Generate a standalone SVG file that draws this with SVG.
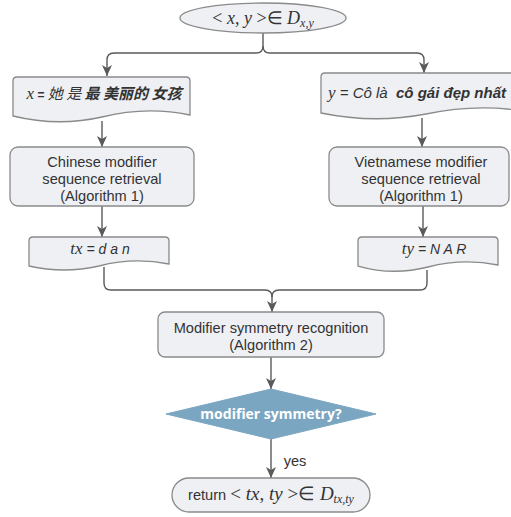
<svg xmlns="http://www.w3.org/2000/svg" width="511" height="517" viewBox="0 0 511 517">
<style>
.shape{fill:#eef0f4;stroke:#8a8a8a;stroke-width:1.3}
.conn{fill:none;stroke:#5a5a5a;stroke-width:1.4}
.t{font-family:"Liberation Sans",Arial,sans-serif;font-size:14.6px;fill:#333;text-anchor:middle}
.m{font-family:"Liberation Serif","Times New Roman",serif;font-style:italic}
.mr{font-family:"Liberation Serif","Times New Roman",serif}
.cjk{font-family:"Noto Sans CJK SC",sans-serif;font-style:italic}
</style>
<defs>
<marker id="arr" markerUnits="userSpaceOnUse" markerWidth="12" markerHeight="12" viewBox="0 0 12 12" refX="11" refY="6" orient="auto">
<path d="M0,1 L11,6 L0,11 L3,6 z" fill="#5a5a5a"/>
</marker>
</defs>
<rect width="511" height="517" fill="#ffffff"/>
<g id="connectors">
<path class="conn" d="M263,33 L263,46 Q263,53 256,53 L114,53 Q107,53 107,60 L107,76" marker-end="url(#arr)"/>
<path class="conn" d="M263,46 Q263,53 270,53 L417,53 Q424,53 424,60 L424,73" marker-end="url(#arr)"/>
<path class="conn" d="M102,121 L102,147" marker-end="url(#arr)"/>
<path class="conn" d="M422,118 L422,147" marker-end="url(#arr)"/>
<path class="conn" d="M102,206 L102,237" marker-end="url(#arr)"/>
<path class="conn" d="M423,206 L423,237" marker-end="url(#arr)"/>
<path class="conn" d="M104,267 L104,283 Q104,290 111,290 L265,290 Q272,290 272,297 L272,312" marker-end="url(#arr)"/>
<path class="conn" d="M427,270 L427,283 Q427,290 420,290 L279,290 Q272,290 272,297"/>
<path class="conn" d="M271,357 L271,389" marker-end="url(#arr)"/>
<path class="conn" d="M271,439 L271,478" marker-end="url(#arr)"/>
<text class="t" x="295" y="466">yes</text>
</g>
<g id="start">
<ellipse class="shape" cx="263" cy="18" rx="83" ry="15"/>
<text x="263" y="24" font-size="18" fill="#333" text-anchor="middle" class="mr" xml:space="preserve">&lt; <tspan class="m">x</tspan>, <tspan class="m">y</tspan> &gt;∈ <tspan class="m">D</tspan><tspan class="m" font-size="12" dy="3">x,y</tspan></text>
</g>
<g id="docX">
<path class="shape" d="M13,81 Q13,77 17,77 L186,77 Q190,77 190,81 L190,115 Q146,106 102,117 Q58,127 13,116 Z"/>
<text x="104" y="99" fill="#333" text-anchor="middle" font-size="15"><tspan class="m" font-size="17">x</tspan><tspan font-family="Liberation Sans,sans-serif" font-weight="bold" font-size="12"> = </tspan><tspan class="cjk">她 是 </tspan><tspan class="cjk" font-weight="bold">最 美丽的 女孩</tspan></text>
</g>
<g id="docY">
<path class="shape" d="M321,77 Q321,73 325,73 L530,73 L530,112 Q478,103 426,114 Q374,124 321,113 Z"/>
<text x="328" y="98" fill="#333" font-size="15" font-family="Liberation Sans,Arial,sans-serif" font-style="italic" xml:space="preserve"><tspan class="m" font-size="17">y</tspan> = Cô là  <tspan font-weight="bold">cô gái đẹp nhất</tspan></text>
</g>
<g id="procX">
<rect class="shape" x="10" y="147" width="184" height="59" rx="8"/>
<text class="t" x="102" y="167">Chinese modifier</text>
<text class="t" x="102" y="184">sequence retrieval</text>
<text class="t" x="102" y="201">(Algorithm 1)</text>
</g>
<g id="procY">
<rect class="shape" x="329" y="147" width="180" height="59" rx="8"/>
<text class="t" x="421" y="167">Vietnamese modifier</text>
<text class="t" x="421" y="184">sequence retrieval</text>
<text class="t" x="421" y="201">(Algorithm 1)</text>
</g>
<g id="tx">
<path class="shape" d="M29,241 Q29,237 33,237 L165,237 Q169,237 169,241 L169,264 Q134,257 99,266 Q64,274 29,266 Z"/>
<text x="100" y="254" fill="#333" text-anchor="middle" font-size="14" font-family="Liberation Sans,Arial,sans-serif" font-style="italic"><tspan class="m" font-size="17">tx</tspan> = d a n</text>
</g>
<g id="ty">
<path class="shape" d="M358,241 Q358,237 362,237 L494,237 Q498,237 498,241 L498,265 Q463,258 428,267 Q393,276 358,266 Z"/>
<text x="434" y="254" fill="#333" text-anchor="middle" font-size="14" font-family="Liberation Sans,Arial,sans-serif" font-style="italic"><tspan class="m" font-size="17">ty</tspan> = N A R</text>
</g>
<g id="recog">
<rect class="shape" x="158" y="312" width="226" height="45" rx="7"/>
<text class="t" x="271" y="333">Modifier symmetry recognition</text>
<text class="t" x="271" y="350">(Algorithm 2)</text>
</g>
<g id="decision">
<polygon points="271,389 376,414 271,439 166,414" fill="#7ba6c2" stroke="#7ba6c2"/>
<text x="271" y="419" fill="#ffffff" font-family="Open Sans,Liberation Sans,sans-serif" font-weight="bold" font-size="14" text-anchor="middle">modifier symmetry?</text>
</g>
<g id="end">
<rect class="shape" x="172" y="478" width="198" height="34" rx="17"/>
<text x="271" y="500" fill="#333" text-anchor="middle" font-size="19" class="mr" xml:space="preserve"><tspan font-family="Liberation Sans,Arial,sans-serif" font-size="14.6">return </tspan>&lt; <tspan class="m">tx</tspan>, <tspan class="m">ty</tspan> &gt;∈ <tspan class="m">D</tspan><tspan class="m" font-size="12" dy="3">tx,ty</tspan></text>
</g>
</svg>
